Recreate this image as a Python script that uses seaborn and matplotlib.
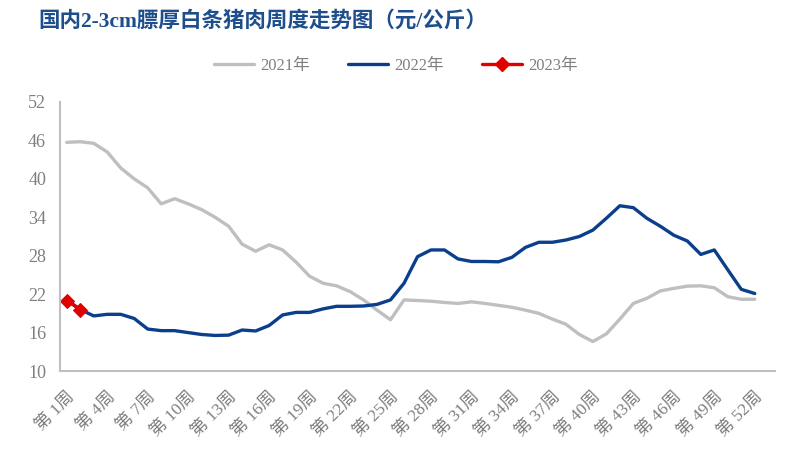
import matplotlib.pyplot as plt
import matplotlib.ticker as mticker
import seaborn as sns
import pandas as pd

weeks = ['第 %d周' % i for i in range(1, 54)]

y2021 = [45.7, 45.8, 45.55, 44.2, 41.7, 40.0, 38.6, 36.1, 36.9, 36.1,
         35.2, 34.0, 32.6, 29.8, 28.7, 29.7, 28.9, 27.0, 24.8, 23.7,
         23.3, 22.4, 21.1, 19.5, 18.0, 21.1, 21.0, 20.9, 20.7, 20.55,
         20.8, 20.55, 20.25, 19.95, 19.5, 19.0, 18.1, 17.3, 15.7, 14.6,
         15.8, 18.1, 20.55, 21.35, 22.5, 22.9, 23.25, 23.3, 23.0, 21.6,
         21.2, 21.2]
y2022 = [21.1, 19.6, 18.6, 18.85, 18.85, 18.2, 16.55, 16.3, 16.3, 16.0,
         15.7, 15.55, 15.6, 16.4, 16.25, 17.1, 18.75, 19.15, 19.15, 19.7,
         20.1, 20.1, 20.15, 20.4, 21.1, 23.7, 27.85, 28.9, 28.9, 27.5,
         27.1, 27.1, 27.05, 27.75, 29.3, 30.1, 30.1, 30.45, 31.0, 32.0,
         33.85, 35.8, 35.5, 33.85, 32.6, 31.2, 30.3, 28.2, 28.9, 25.8,
         22.75, 22.1]
y2023 = [21.0, 19.6]

c2021, c2022, c2023 = '#BFBFBF', '#0B3F8C', '#E00000'

sns.set_style('white')
plt.rcParams['font.family'] = ['Liberation Serif', 'Noto Sans CJK SC']

fig = plt.figure(figsize=(7.85, 4.49), dpi=100)
ax = fig.add_axes([60 / 785, 1 - 371 / 449, 715 / 785, 269 / 449])

sns.lineplot(x=range(len(y2021)), y=y2021, color=c2021, linewidth=2.4, ax=ax)
sns.lineplot(x=range(len(y2022)), y=y2022, color=c2022, linewidth=2.4, ax=ax)
sns.lineplot(x=range(len(y2023)), y=y2023, color=c2023, linewidth=2.4,
             marker='D', markersize=7, markeredgecolor=c2023, ax=ax)

ax.set_xlim(-0.5, 52.5)
ax.set_ylim(10, 52)
ax.set_yticks(range(10, 53, 6))
ax.set_xticks(range(0, 53, 3))
ax.set_xticklabels(weeks[::3], rotation=45, ha='right', rotation_mode='anchor')
ax.xaxis.set_minor_locator(mticker.FixedLocator([i - 0.5 for i in range(0, 53, 3)]))
ax.tick_params(axis='x', which='major', length=0, pad=13, labelsize=12.5, labelcolor='#7F7F7F')
ax.tick_params(axis='x', which='minor', length=6, width=1.5, color='#BFBFBF', direction='out')
ax.tick_params(axis='y', length=6, width=1.5, color='#BFBFBF', direction='out',
               labelsize=13, labelcolor='#7F7F7F', pad=4)
ax.set_xlabel('')
ax.set_ylabel('')
for side in ['top', 'right']:
    ax.spines[side].set_visible(False)
for side in ['left', 'bottom']:
    ax.spines[side].set_color('#BFBFBF')
    ax.spines[side].set_linewidth(1.5)

handles = [
    plt.Line2D([], [], color=c2021, lw=2.4),
    plt.Line2D([], [], color=c2022, lw=2.4),
    plt.Line2D([], [], color=c2023, lw=2.4, marker='D', markersize=7),
]
fig.legend(handles, ['2021年', '2022年', '2023年'], loc='center',
           bbox_to_anchor=(0.5045, 1 - 66 / 449), ncol=3, frameon=False,
           fontsize=12, labelcolor='#7F7F7F', handlelength=2.4,
           columnspacing=2.3, handletextpad=0.35)

fig.text(38 / 785, 1 - 21 / 449, '国内2-3cm膘厚白条猪肉周度走势图（元/公斤）',
         ha='left', va='center', fontsize=15.5, fontweight='bold', color='#1F4E8C')

plt.savefig('out.png', dpi=100)
